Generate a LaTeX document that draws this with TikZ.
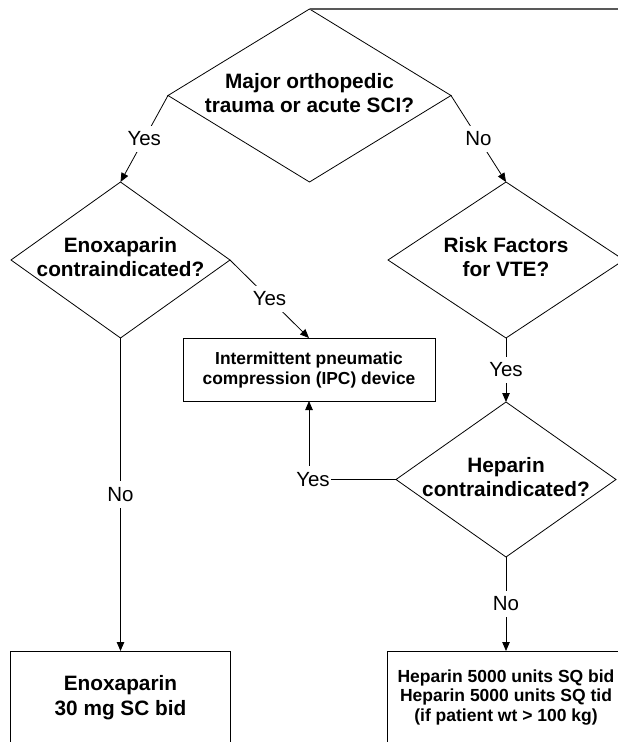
\documentclass[tikz,border=0pt]{standalone}
\usepackage{fontspec}
\setmainfont{Liberation Sans}
\usetikzlibrary{shapes.geometric,arrows.meta}
\newcommand{\dtext}[1]{\makebox[0pt]{\begin{tabular}{@{}c@{}}#1\end{tabular}}}
\begin{document}
\begin{tikzpicture}[x=1pt,y=-1pt,
  line width=0.8pt,
  dia/.style={draw, diamond, inner sep=0pt, outer sep=0pt, font=\bfseries\fontsize{20.8}{24}\selectfont},
  boxnode/.style={draw, rectangle, inner sep=0pt, outer sep=0pt, align=center},
  arr/.style={-{Triangle[length=9pt,width=7.5pt]}},
  lbl/.style={fill=white, inner xsep=1pt, inner ysep=6pt, font=\fontsize{20.5}{24}\selectfont},
  topline/.style={draw=black!65, line width=1.2pt}
]
\useasboundingbox (0,0) rectangle (618,742);
\clip (0,0) rectangle (618,742);

% decisions
\node[dia, minimum width=283pt, minimum height=173pt] (d1) at (309.5,95.5)
  {\dtext{Major orthopedic\\trauma or acute SCI?}};
\node[dia, minimum width=219pt, minimum height=156pt] (d2) at (120.5,260)
  {\dtext{Enoxaparin\\contraindicated?}};
\node[dia, minimum width=236pt, minimum height=156pt] (d3) at (506,260)
  {\dtext{Risk Factors\\for VTE?}};
\node[dia, minimum width=220pt, minimum height=155pt] (d4) at (506,479.5)
  {\dtext{Heparin\\contraindicated?}};

% actions
\node[boxnode, minimum width=252pt, minimum height=63pt,
      font=\bfseries\fontsize{17.4}{20}\selectfont] (ipc) at (309,369.5)
  {Intermittent pneumatic\\compression (IPC) device};
\node[boxnode, minimum width=220pt, minimum height=93pt,
      font=\bfseries\fontsize{20.8}{25}\selectfont] (enox) at (120.5,697.5)
  {Enoxaparin\\30 mg SC bid};
\node[boxnode, minimum width=238pt, minimum height=93pt,
      font=\bfseries\fontsize{17.5}{19.5}\selectfont] (hep) at (506,697.5)
  {Heparin 5000 units SQ bid\\Heparin 5000 units SQ tid\\(if patient wt > 100 kg)};

% incoming connector (continues off the page)
\coordinate (topend) at (618,9);
\draw[topline] (d1.north) -- (topend);

% connectors
\draw[arr] (d1.west) -- node[lbl]{Yes} (d2.north);
\draw[arr] (d1.east) -- node[lbl]{No} (d3.north);
\draw[arr] (d2.east) -- node[lbl]{Yes} (ipc.north);
\draw[arr] (d2.south) -- node[lbl]{No} (enox.north);
\draw[arr] (d3.south) -- node[lbl]{Yes} (d4.north);
\draw[arr] (d4.south) -- node[lbl]{No} (hep.north);
\draw[arr] (d4.west) -| node[lbl, pos=0.5, xshift=4pt]{Yes} (ipc.south);
\end{tikzpicture}
\end{document}
